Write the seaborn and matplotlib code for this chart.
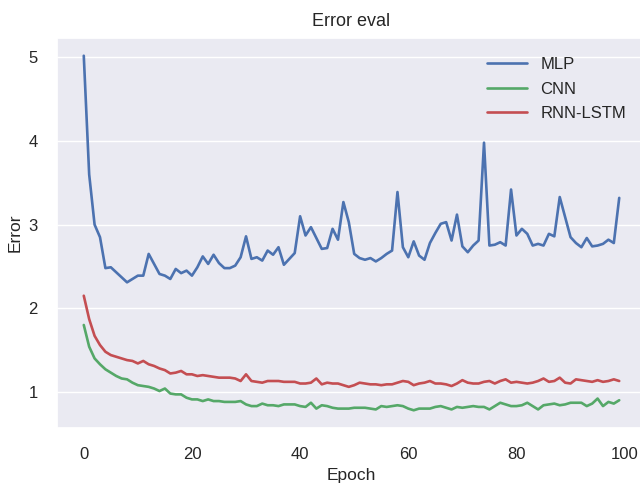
import numpy as np
import pandas as pd
import seaborn as sns
import matplotlib
matplotlib.use("Agg")
import matplotlib.pyplot as plt

# error per epoch
mlp = [5.02, 3.60, 3.00, 2.85, 2.48, 2.49, 2.43, 2.37, 2.31, 2.35,
       2.39, 2.39, 2.65, 2.53, 2.41, 2.39, 2.35, 2.47, 2.42, 2.45,
       2.39, 2.49, 2.62, 2.53, 2.64, 2.54, 2.48, 2.48, 2.51, 2.61,
       2.86, 2.59, 2.61, 2.57, 2.69, 2.64, 2.73, 2.52, 2.59, 2.66,
       3.10, 2.87, 2.97, 2.84, 2.71, 2.72, 2.95, 2.82, 3.27, 3.03,
       2.65, 2.60, 2.58, 2.60, 2.56, 2.60, 2.65, 2.69, 3.39, 2.73,
       2.61, 2.80, 2.63, 2.58, 2.78, 2.90, 3.01, 3.03, 2.81, 3.12,
       2.74, 2.67, 2.75, 2.81, 3.98, 2.75, 2.76, 2.79, 2.75, 3.42,
       2.87, 2.95, 2.89, 2.75, 2.77, 2.75, 2.89, 2.86, 3.33, 3.09,
       2.85, 2.78, 2.73, 2.84, 2.74, 2.75, 2.77, 2.82, 2.78, 3.32]
cnn = [1.80, 1.54, 1.40, 1.33, 1.27, 1.23, 1.19, 1.16, 1.15, 1.11,
       1.08, 1.07, 1.06, 1.04, 1.01, 1.04, 0.98, 0.97, 0.97, 0.93,
       0.91, 0.91, 0.89, 0.91, 0.89, 0.89, 0.88, 0.88, 0.88, 0.89,
       0.85, 0.83, 0.83, 0.86, 0.84, 0.84, 0.83, 0.85, 0.85, 0.85,
       0.83, 0.82, 0.87, 0.80, 0.84, 0.83, 0.81, 0.80, 0.80, 0.80,
       0.81, 0.81, 0.81, 0.80, 0.79, 0.83, 0.82, 0.83, 0.84, 0.83,
       0.80, 0.78, 0.80, 0.80, 0.80, 0.82, 0.83, 0.81, 0.79, 0.82,
       0.81, 0.82, 0.83, 0.82, 0.82, 0.79, 0.83, 0.87, 0.85, 0.83,
       0.83, 0.84, 0.87, 0.83, 0.79, 0.84, 0.85, 0.86, 0.84, 0.85,
       0.87, 0.87, 0.87, 0.83, 0.86, 0.92, 0.83, 0.88, 0.86, 0.90]
rnn = [2.15, 1.87, 1.67, 1.56, 1.48, 1.44, 1.42, 1.40, 1.38, 1.37,
       1.34, 1.37, 1.33, 1.31, 1.28, 1.26, 1.22, 1.23, 1.25, 1.21,
       1.21, 1.19, 1.20, 1.19, 1.18, 1.17, 1.17, 1.17, 1.16, 1.13,
       1.21, 1.13, 1.12, 1.11, 1.13, 1.13, 1.13, 1.12, 1.12, 1.12,
       1.10, 1.10, 1.11, 1.16, 1.09, 1.11, 1.10, 1.10, 1.08, 1.06,
       1.08, 1.11, 1.10, 1.09, 1.09, 1.08, 1.09, 1.09, 1.11, 1.13,
       1.12, 1.08, 1.10, 1.11, 1.13, 1.10, 1.10, 1.09, 1.07, 1.10,
       1.14, 1.11, 1.10, 1.10, 1.12, 1.13, 1.10, 1.13, 1.15, 1.11,
       1.12, 1.11, 1.10, 1.11, 1.13, 1.16, 1.12, 1.13, 1.17, 1.11,
       1.10, 1.15, 1.14, 1.13, 1.12, 1.14, 1.12, 1.13, 1.15, 1.13]
models = ["MLP", "CNN", "RNN-LSTM"]
epochs = list(range(len(mlp)))

# long format for seaborn
df = pd.concat([
    pd.DataFrame({"Epoch": epochs, "Error": vals, "model": name})
    for name, vals in zip(models, [mlp, cnn, rnn])
])

sns.set_theme(style="darkgrid")
plt.rcParams["font.family"] = ["Liberation Sans", "DejaVu Sans"]

fig = plt.figure(figsize=(6.4, 4.84), dpi=100)
ax = fig.add_axes([57 / 640, 56 / 484, 589 / 640, 390 / 484])
sns.lineplot(data=df, x="Epoch", y="Error", hue="model",
             palette=["#4C72B0", "#55A868", "#C44E52"], linewidth=1.9, ax=ax)
ax.grid(axis="x", visible=False)
ax.tick_params(labelsize=12, pad=8, colors="#262626")
ax.set_xlabel("Epoch", fontsize=12.5, color="#262626")
ax.set_ylabel("Error", fontsize=12.5, color="#262626")
ax.set_title("Error eval", fontsize=13, color="#262626", pad=9)
ax.set_xticks([0, 20, 40, 60, 80, 100])
ax.set_yticks([1, 2, 3, 4, 5])
leg = ax.legend(frameon=False, fontsize=12, loc="upper right",
                bbox_to_anchor=(0.992, 0.99), handlelength=2.4,
                labelspacing=0.58)
for t in leg.get_texts():
    t.set_color("#262626")

fig.savefig("out.png", dpi=100)
